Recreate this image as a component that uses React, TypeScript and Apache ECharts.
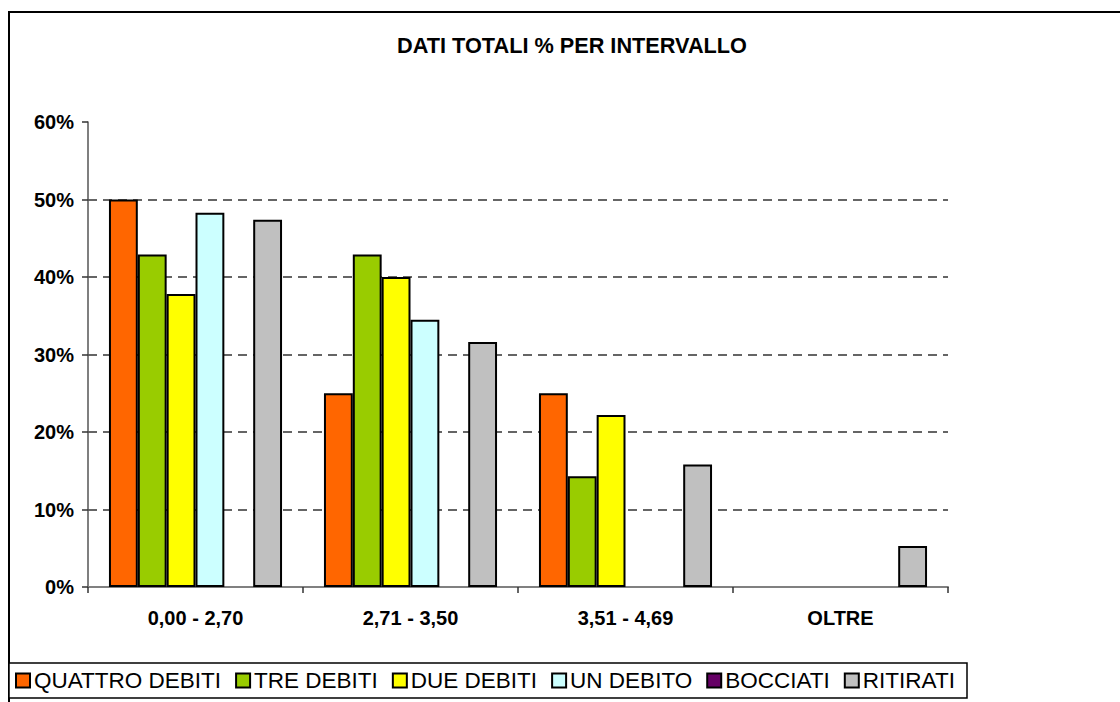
import React, { useEffect, useRef } from "react";
import * as echarts from "echarts";

const categories = ["0,00 - 2,70", "2,71 - 3,50", "3,51 - 4,69", "OLTRE"];
const seriesNames = ["QUATTRO DEBITI", "TRE DEBITI", "DUE DEBITI", "UN DEBITO", "BOCCIATI", "RITIRATI"];
const quattroDebiti = [50.0, 25.0, 25.0, 0];
const treDebiti = [42.9, 42.9, 14.3, 0];
const dueDebiti = [37.8, 40.0, 22.2, 0];
const unDebito = [48.3, 34.5, 0, 0];
const bocciati = [0, 0, 0, 0];
const ritirati = [47.4, 31.6, 15.8, 5.3];
const colors = ["#FF6600", "#99CC00", "#FFFF00", "#CCFFFF", "#660066", "#C0C0C0"];
const titleText = "DATI TOTALI % PER INTERVALLO";

const FONT = "'Liberation Sans', Arial, sans-serif";

export default function App() {
  const ref = useRef<HTMLDivElement>(null);
  useEffect(() => {
    if (!ref.current) return;
    const chart = echarts.init(ref.current, null, { renderer: "svg" });
    const values = [quattroDebiti, treDebiti, dueDebiti, unDebito, bocciati, ritirati];
    const series = seriesNames.map((name, i) => ({
      name,
      type: "bar" as const,
      data: values[i].map((v) => (v === 0 ? "-" : v)),
      barGap: "0%",
      barCategoryGap: "19.5%",
      itemStyle: { color: colors[i], borderColor: "#000", borderWidth: 2 },
    }));
    chart.setOption({
      animation: false,
      textStyle: { fontFamily: FONT },
      graphic: [
        {
          type: "rect",
          shape: { x: 9, y: 12, width: 1200, height: 800 },
          style: { fill: "none", stroke: "#000", lineWidth: 2 },
          z: 0,
        },
        {
          type: "rect",
          shape: { x: 9, y: 663, width: 958, height: 35 },
          style: { fill: "#fff", stroke: "#000", lineWidth: 1.5 },
          z: 1,
        },
        {
          type: "text",
          x: 572,
          y: 45,
          style: {
            text: titleText,
            fontFamily: FONT,
            fontSize: 21.7,
            fontWeight: "bold",
            fill: "#000",
            textAlign: "center",
            textVerticalAlign: "middle",
          },
        },
      ],
      legend: {
        left: 15,
        top: 669,
        padding: 0,
        itemWidth: 14,
        itemHeight: 14,
        itemGap: 14,
        icon: "rect",
        itemStyle: { borderColor: "#000", borderWidth: 2 },
        textStyle: { fontFamily: FONT, fontSize: 22.5, color: "#000", padding: [0, 0, 0, -1] },
        data: seriesNames,
        z: 5,
      },
      grid: { left: 88, right: 172, top: 122, height: 465, containLabel: false },
      xAxis: {
        type: "category",
        data: categories,
        axisLine: { lineStyle: { color: "#808080", width: 2 } },
        axisTick: { show: true, length: 6, lineStyle: { color: "#333", width: 1.5 } },
        axisLabel: { fontFamily: FONT, fontSize: 20, fontWeight: "bold", color: "#000", margin: 21 },
      },
      yAxis: {
        type: "value",
        min: 0,
        max: 60,
        interval: 10,
        axisLine: { show: true, lineStyle: { color: "#555", width: 1.5 } },
        axisTick: { show: true, length: 6, lineStyle: { color: "#333", width: 1.5 } },
        axisLabel: {
          formatter: "{value}%",
          fontFamily: FONT,
          fontSize: 20,
          fontWeight: "bold",
          color: "#000",
          margin: 14,
        },
        splitLine: {
          show: true,
          showMinLine: false,
          showMaxLine: false,
          lineStyle: { color: "#333", type: [9, 6], width: 1.5 },
        },
      },
      series,
    });
    return () => chart.dispose();
  }, []);
  return (
    <div
      ref={ref}
      style={{ position: "fixed", left: 0, top: 0, width: 1120, height: 702, background: "#fff" }}
    />
  );
}
